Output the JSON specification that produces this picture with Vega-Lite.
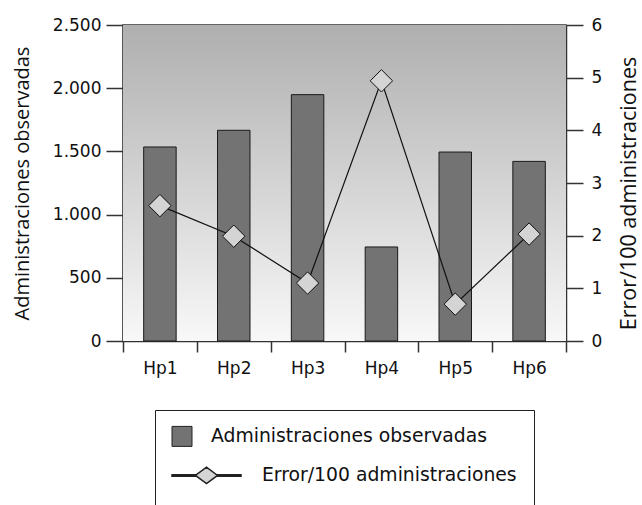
{
  "$schema": "https://vega.github.io/schema/vega-lite/v6.json",
  "width": 443,
  "height": 316,
  "autosize": {"type": "none"},
  "padding": {"left": 123, "top": 25, "right": 76, "bottom": 164},
  "background": "white",
  "config": {
    "view": {"stroke": "#333", "strokeWidth": 1.5},
    "font": "DejaVu Sans",
    "axis": {
      "labelFont": "DejaVu Sans",
      "labelFontSize": 17,
      "labelColor": "#111",
      "titleFont": "Open Sans",
      "titleFontSize": 20,
      "titleFontWeight": "normal",
      "titleColor": "#111",
      "domainColor": "#333",
      "domainWidth": 1.5,
      "tickColor": "#333",
      "tickWidth": 1.5,
      "grid": false
    },
    "axisX": {"tickSize": 11, "labelPadding": 8, "labelAngle": 0, "tickBand": "extent"},
    "axisY": {"tickSize": 17}
  },
  "data": {
    "values": [
      {"cat": "Hp1", "adm": 1535, "err": 2.57},
      {"cat": "Hp2", "adm": 1667, "err": 1.99},
      {"cat": "Hp3", "adm": 1949, "err": 1.10},
      {"cat": "Hp4", "adm": 744, "err": 4.94},
      {"cat": "Hp5", "adm": 1495, "err": 0.70},
      {"cat": "Hp6", "adm": 1421, "err": 2.03}
    ]
  },
  "layer": [
    {
      "data": {"values": [{}]},
      "mark": {
        "type": "rect",
        "color": {
          "gradient": "linear",
          "x1": 0, "y1": 0, "x2": 0, "y2": 1,
          "stops": [
            {"offset": 0, "color": "#afafaf"},
            {"offset": 1, "color": "#f8f8f8"}
          ]
        }
      },
      "encoding": {}
    },
    {
      "mark": {"type": "bar", "width": {"band": 0.44}, "stroke": "#1a1a1a", "strokeWidth": 1},
      "encoding": {
        "x": {"field": "cat", "type": "nominal", "title": null, "scale": {"paddingInner": 0, "paddingOuter": 0}},
        "y": {
          "field": "adm",
          "type": "quantitative",
          "scale": {"domain": [0, 2500]},
          "axis": {
            "orient": "left",
            "values": [0, 500, 1000, 1500, 2000, 2500],
            "labelExpr": "replace(format(datum.value, ','), ',', '.')",
            "labelPadding": 5,
            "title": "Administraciones observadas",
            "titlePadding": 20
          }
        },
        "fill": {
          "datum": "Administraciones observadas",
          "scale": {
            "domain": ["Administraciones observadas", "Error/100 administraciones"],
            "range": ["#737373", "#d4d4d4"]
          },
          "legend": {
            "title": null,
            "orient": "none",
            "legendX": 32,
            "legendY": 385,
            "padding": 17,
            "strokeColor": "#222",
            "fillColor": "white",
            "labelFont": "DejaVu Sans",
            "labelFontSize": 18.8,
            "labelColor": "#111",
            "labelLimit": 0,
            "labelOffset": 20,
            "rowPadding": 15,
            "symbolSize": 4761,
            "symbolStrokeColor": "#222",
            "symbolStrokeWidth": 1,
            "symbolOpacity": 1,
            "encode": {
              "symbols": {
                "update": {
                  "shape": {"signal": "datum.value === 'Error/100 administraciones' ? 'M -1 -0.022 L -0.32 -0.022 L -0.32 0.022 L -1 0.022 Z M 0.32 -0.022 L 1 -0.022 L 1 0.022 L 0.32 0.022 Z M -0.32 0 L 0 -0.24 L 0.32 0 L 0 0.24 Z M 0 0.5 L 0 0.5' : 'square'"},
                  "size": {"signal": "datum.value === 'Error/100 administraciones' ? 4761 : 400"},
                  "strokeWidth": {"signal": "datum.value === 'Error/100 administraciones' ? 1.5 : 1"},
                  "x": {"signal": "datum.value === 'Error/100 administraciones' ? 34.5 : 10"}
                }
              },
              "labels": {
                "update": {
                  "x": {"signal": "datum.value === 'Error/100 administraciones' ? 90 : 39"}
                }
              }
            }
          }
        }
      }
    },
    {
      "layer": [
        {
          "mark": {"type": "line", "color": "#111", "strokeWidth": 1.2},
          "encoding": {
            "x": {"field": "cat", "type": "nominal", "title": null},
            "y": {
              "field": "err",
              "type": "quantitative",
              "scale": {"domain": [0, 6]},
              "axis": {
                "orient": "right",
                "values": [0, 1, 2, 3, 4, 5, 6],
                "labelPadding": 8,
                "title": "Error/100 administraciones",
                "titleFontSize": 21.5,
                "titleAngle": 270,
                "titleBaseline": "top",
                "titleY": 168,
                "titlePadding": 17
              }
            }
          }
        },
        {
          "mark": {"type": "point", "shape": "diamond", "size": 500, "filled": true, "stroke": "#111", "strokeWidth": 1, "opacity": 1},
          "encoding": {
            "x": {"field": "cat", "type": "nominal", "title": null},
            "y": {"field": "err", "type": "quantitative"},
            "fill": {"datum": "Error/100 administraciones"}
          }
        }
      ]
    }
  ],
  "resolve": {"scale": {"y": "independent"}}
}
